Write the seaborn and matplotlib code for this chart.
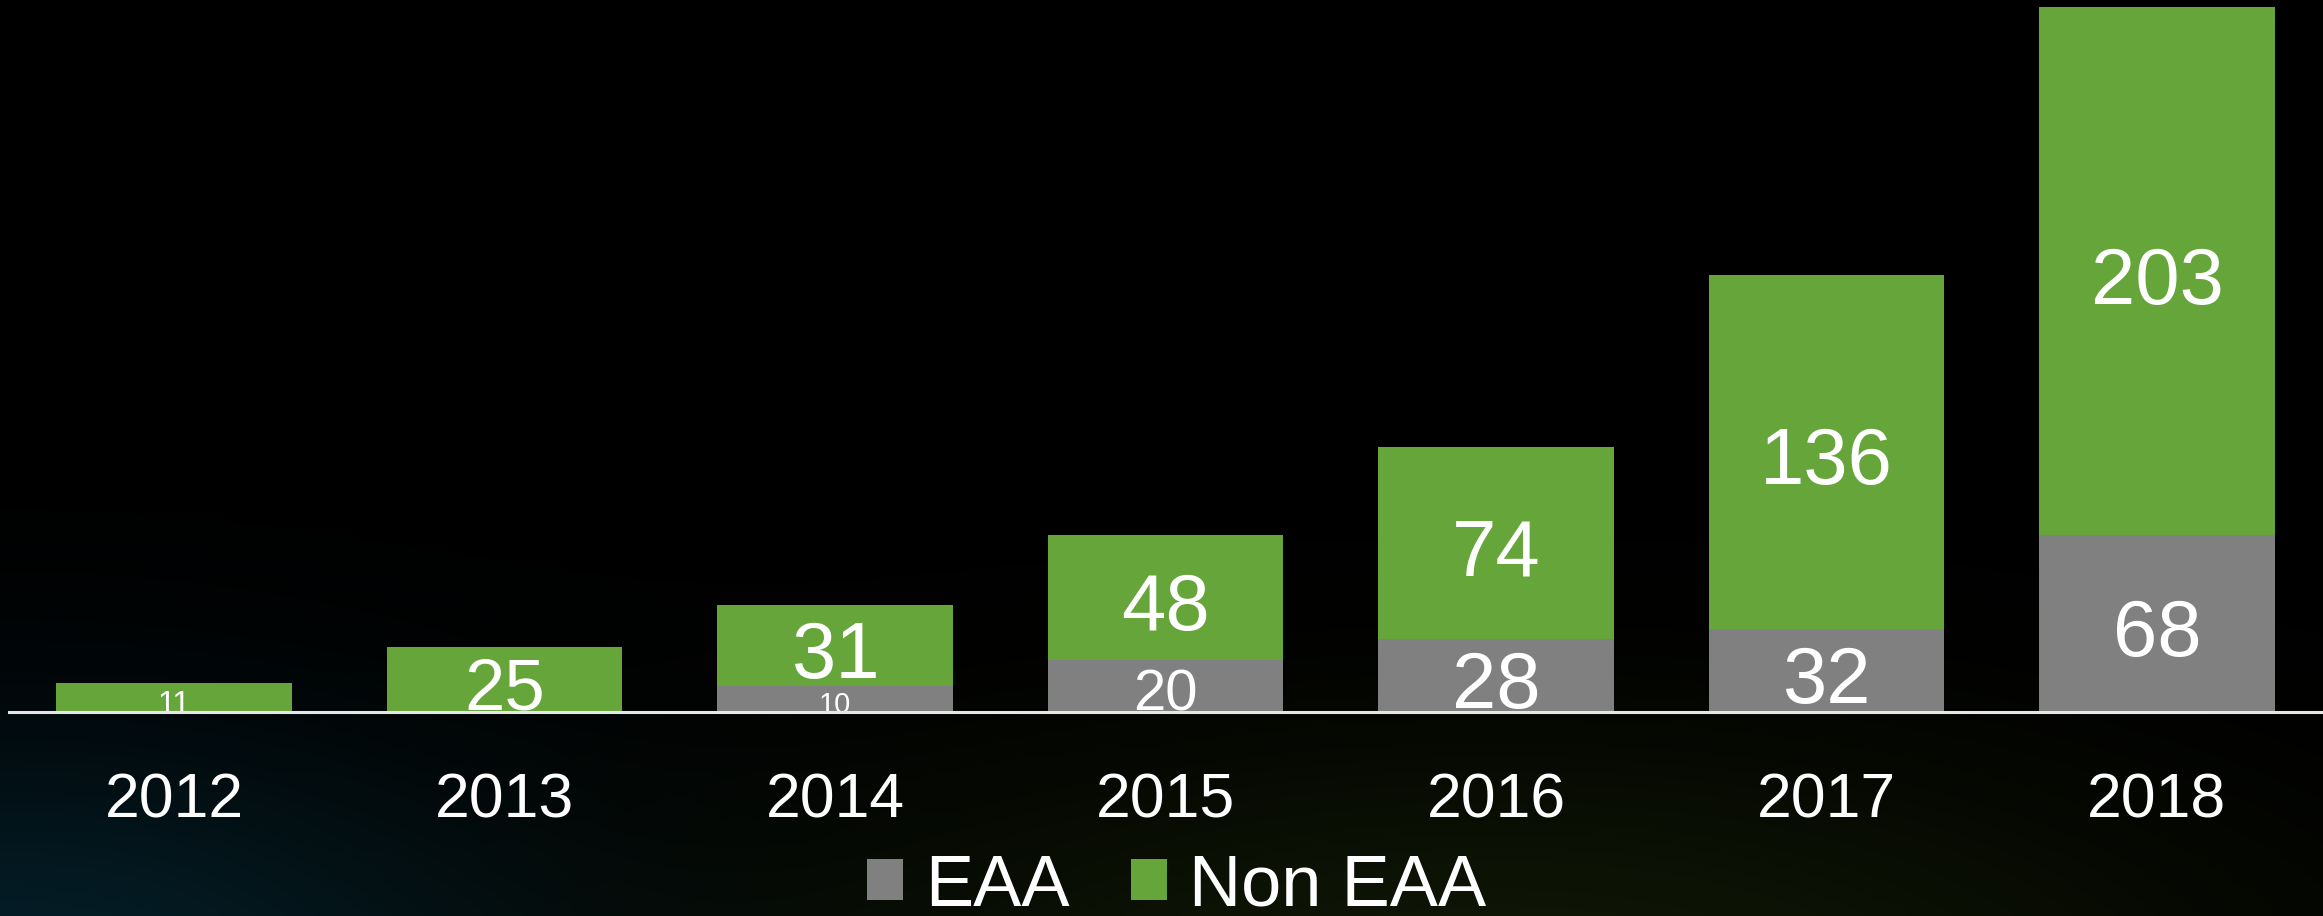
import numpy as np
import pandas as pd
import matplotlib
matplotlib.use("Agg")
import matplotlib.pyplot as plt
import seaborn as sns

# Data
years = ["2012", "2013", "2014", "2015", "2016", "2017", "2018"]
eaa = [0, 0, 10, 20, 28, 32, 68]
non_eaa = [11, 25, 31, 48, 74, 136, 203]

GREEN = "#66a53a"
GREY = "#808080"
W, H, DPI = 2323, 916, 100

sns.set_theme(style="white")
plt.rcParams["font.family"] = ["Liberation Sans", "DejaVu Sans"]

df = pd.DataFrame({"year": years, "EAA": eaa, "Non EAA": non_eaa})
df["total"] = df["EAA"] + df["Non EAA"]

fig = plt.figure(figsize=(W / DPI, H / DPI), dpi=DPI, facecolor="black")

# Dark backdrop with a teal glow bottom-left and an olive glow lower right
yy, xx = np.mgrid[0:H, 0:W].astype(float)
bg_img = np.zeros((H, W, 3))
teal = np.exp(-(((xx - 0) / 520.0) ** 2 + ((yy - 990) / 260.0) ** 2))
olive = np.exp(-(((xx - 1500) / 750.0) ** 2 + ((yy - 1000) / 260.0) ** 2))
bg_img += teal[..., None] * np.array([4, 30, 40]) / 255.0
bg_img += olive[..., None] * np.array([16, 24, 6]) / 255.0
bg = fig.add_axes([0, 0, 1, 1], zorder=-10)
bg.imshow(np.clip(bg_img, 0, 1), aspect="auto", interpolation="bilinear")
bg.axis("off")

# Plot area: baseline at 712 px from top, full height above it
ax_bottom = (H - 712) / H
ax = fig.add_axes([8.75 / W, ax_bottom, (2322.25 - 8.75) / W, 1 - ax_bottom])
ax.set_facecolor("none")

sns.barplot(data=df, x="year", y="total", color=GREEN, width=0.714,
            saturation=1, linewidth=0, label="Non EAA", ax=ax)
sns.barplot(data=df, x="year", y="EAA", color=GREY, width=0.714,
            saturation=1, linewidth=0, label="EAA", ax=ax)
if ax.get_legend() is not None:
    ax.get_legend().remove()

ax.set_xlim(-0.5, 6.5)
ax.set_ylim(0, 273.7)
ax.set_xlabel("")
ax.set_ylabel("")
ax.set_yticks([])
for side in ["top", "left", "right"]:
    ax.spines[side].set_visible(False)
ax.spines["bottom"].set_color("#e6e6e6")
ax.spines["bottom"].set_linewidth(2.2)
ax.spines["bottom"].set_zorder(5)
ax.tick_params(axis="x", length=0, pad=43, labelsize=45, labelcolor="white")

# Segment labels, shrunk to fit short segments
px_per_unit = 712 / 273.7
def add_label(i, value, center):
    seg_px = value * px_per_unit
    cap = min(57.0, 0.8 * seg_px)
    size = cap / 0.716 * 0.72
    ax.annotate(str(value), xy=(i, center),
                xytext=(0, -(cap / 2 + 4) * 0.72), textcoords="offset points",
                ha="center", va="baseline", color="white", fontsize=size,
                annotation_clip=False, clip_on=True, zorder=4)

for i, (e, n) in enumerate(zip(eaa, non_eaa)):
    if e > 0:
        add_label(i, e, e / 2)
    if n > 0:
        add_label(i, n, e + n / 2)

handles, labels = ax.get_legend_handles_labels()
order = [labels.index("EAA"), labels.index("Non EAA")]
fig.legend([handles[k] for k in order], [labels[k] for k in order],
           loc="center", bbox_to_anchor=(1176.5 / W, 29 / H), ncol=2,
           frameon=False, fontsize=52, labelcolor="white",
           handlelength=0.5, handleheight=0.5, handletextpad=0.3,
           columnspacing=0.85, borderpad=0, borderaxespad=0)

fig.savefig("out.png", dpi=DPI, facecolor="black")
